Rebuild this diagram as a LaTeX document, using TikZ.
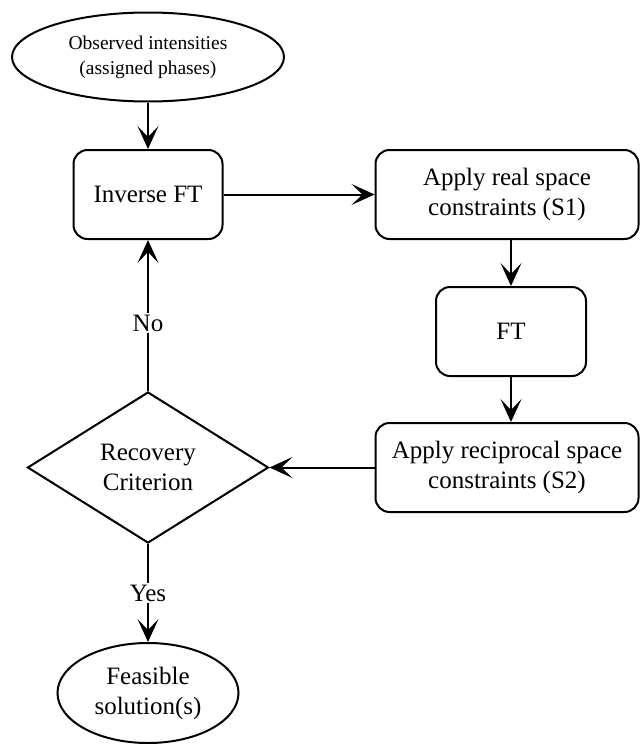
\documentclass[tikz,border=0pt]{standalone}
\usepackage{fontspec}
\setmainfont{Liberation Serif}
\usetikzlibrary{shapes.geometric}
\usetikzlibrary{arrows.meta}

\begin{document}
\begin{tikzpicture}[x=1pt, y=-1pt, line width=2pt,
  every node/.style={font=\rmfamily\fontsize{25}{30}\selectfont, align=center},
  terminal/.style={draw, ellipse, inner sep=0pt},
  process/.style={draw, rounded corners=14pt, inner sep=0pt, minimum height=89pt},
  decision/.style={draw, diamond, inner sep=0pt, minimum width=241pt, minimum height=151pt},
  flow/.style={-{Stealth[length=23pt,width=21pt,inset=11pt]}}]
\useasboundingbox (0,0) rectangle (640,744);
% boxes
\node[terminal, minimum width=272pt, minimum height=89pt, font=\rmfamily\fontsize{19.5}{25}\selectfont] (obs) at (148,57) {Observed intensities\\(assigned phases)};
\node[process, minimum width=149pt] (inv) at (148,194.5) {Inverse FT};
\node[process, minimum width=263pt] (real) at (507,194.5) {Apply real space\\constraints (S1)};
\node[process, minimum width=150pt] (ft) at (511,331.5) {FT};
\node[process, minimum width=263pt] (recip) at (507,467.5) {Apply reciprocal space\\constraints (S2)};
\node[decision] (crit) at (148,467.5) {Recovery\\Criterion};
\node[terminal, minimum width=181pt, minimum height=100pt] (sol) at (148,693) {Feasible\\solution(s)};
% connectors
\draw[flow] (obs) -- (inv);
\draw[flow] (inv) -- (real);
\draw[flow] (real.south -| ft.north) -- (ft.north);
\draw[flow] (ft.south) -- (ft.south |- recip.north);
\draw[flow] (recip) -- (crit);
\draw[flow] (crit) -- node[fill=white, inner sep=2pt, pos=0.45]{No} (inv);
\draw[flow] (crit) -- node[fill=white, inner sep=2pt]{Yes} (sol);
\end{tikzpicture}
\end{document}
